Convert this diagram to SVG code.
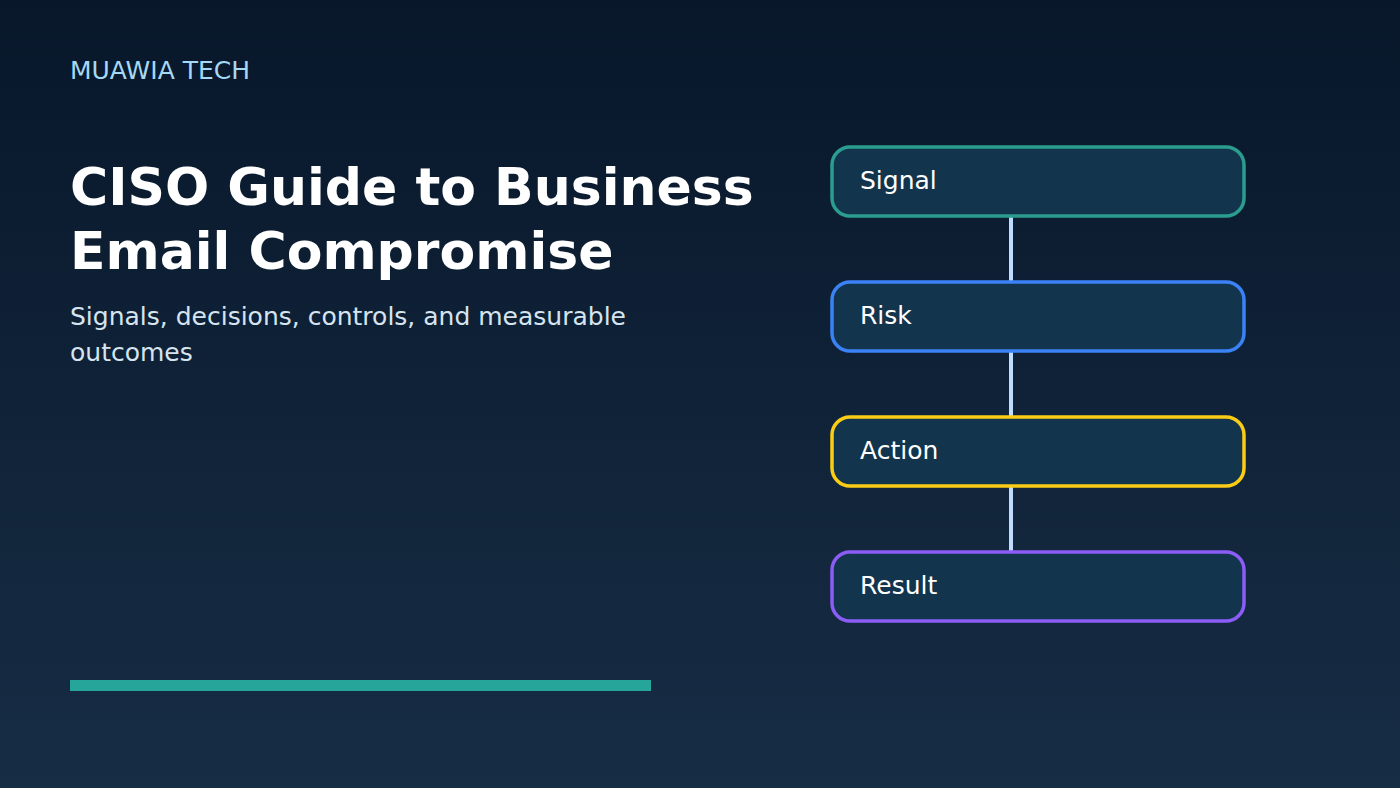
<svg xmlns="http://www.w3.org/2000/svg" width="1400" height="788" viewBox="0 0 1400 788">
<defs>
<linearGradient id="bg" x1="0" y1="0" x2="0" y2="1">
<stop offset="0" stop-color="#08172a"/>
<stop offset="1" stop-color="#172d45"/>
</linearGradient>
</defs>
<style>
text{font-family:"DejaVu Sans","Liberation Sans",sans-serif}
.brand{font-size:25px;fill:#a5d8f5}
.title{font-size:52px;font-weight:bold;fill:#ffffff}
.sub{font-size:25px;fill:#d6e4f0}
.box{fill:#12344d;stroke-width:3.5}
.lbl{font-size:25px;fill:#ffffff}
.conn{stroke:#bfdbfe;stroke-width:4}
</style>
<rect width="1400" height="788" fill="url(#bg)"/>
<text class="brand" x="70" y="79">MUAWIA TECH</text>
<text class="title" x="70" y="205">CISO Guide to Business</text>
<text class="title" x="70" y="269">Email Compromise</text>
<text class="sub" x="70" y="325">Signals, decisions, controls, and measurable</text>
<text class="sub" x="70" y="361">outcomes</text>
<rect x="70" y="680" width="581" height="11" fill="#26a69a"/>
<g id="connectors">
<line class="conn" x1="1011" y1="216" x2="1011" y2="282"/>
<line class="conn" x1="1011" y1="351" x2="1011" y2="417"/>
<line class="conn" x1="1011" y1="486" x2="1011" y2="552"/>
</g>
<g id="signal">
<rect class="box" x="832" y="147" width="412" height="69" rx="18" stroke="#2a9d8f"/>
<text class="lbl" x="860" y="189">Signal</text>
</g>
<g id="risk">
<rect class="box" x="832" y="282" width="412" height="69" rx="18" stroke="#3b82f6"/>
<text class="lbl" x="860" y="324">Risk</text>
</g>
<g id="action">
<rect class="box" x="832" y="417" width="412" height="69" rx="18" stroke="#facc15"/>
<text class="lbl" x="860" y="459">Action</text>
</g>
<g id="result">
<rect class="box" x="832" y="552" width="412" height="69" rx="18" stroke="#8b5cf6"/>
<text class="lbl" x="860" y="594">Result</text>
</g>
</svg>
